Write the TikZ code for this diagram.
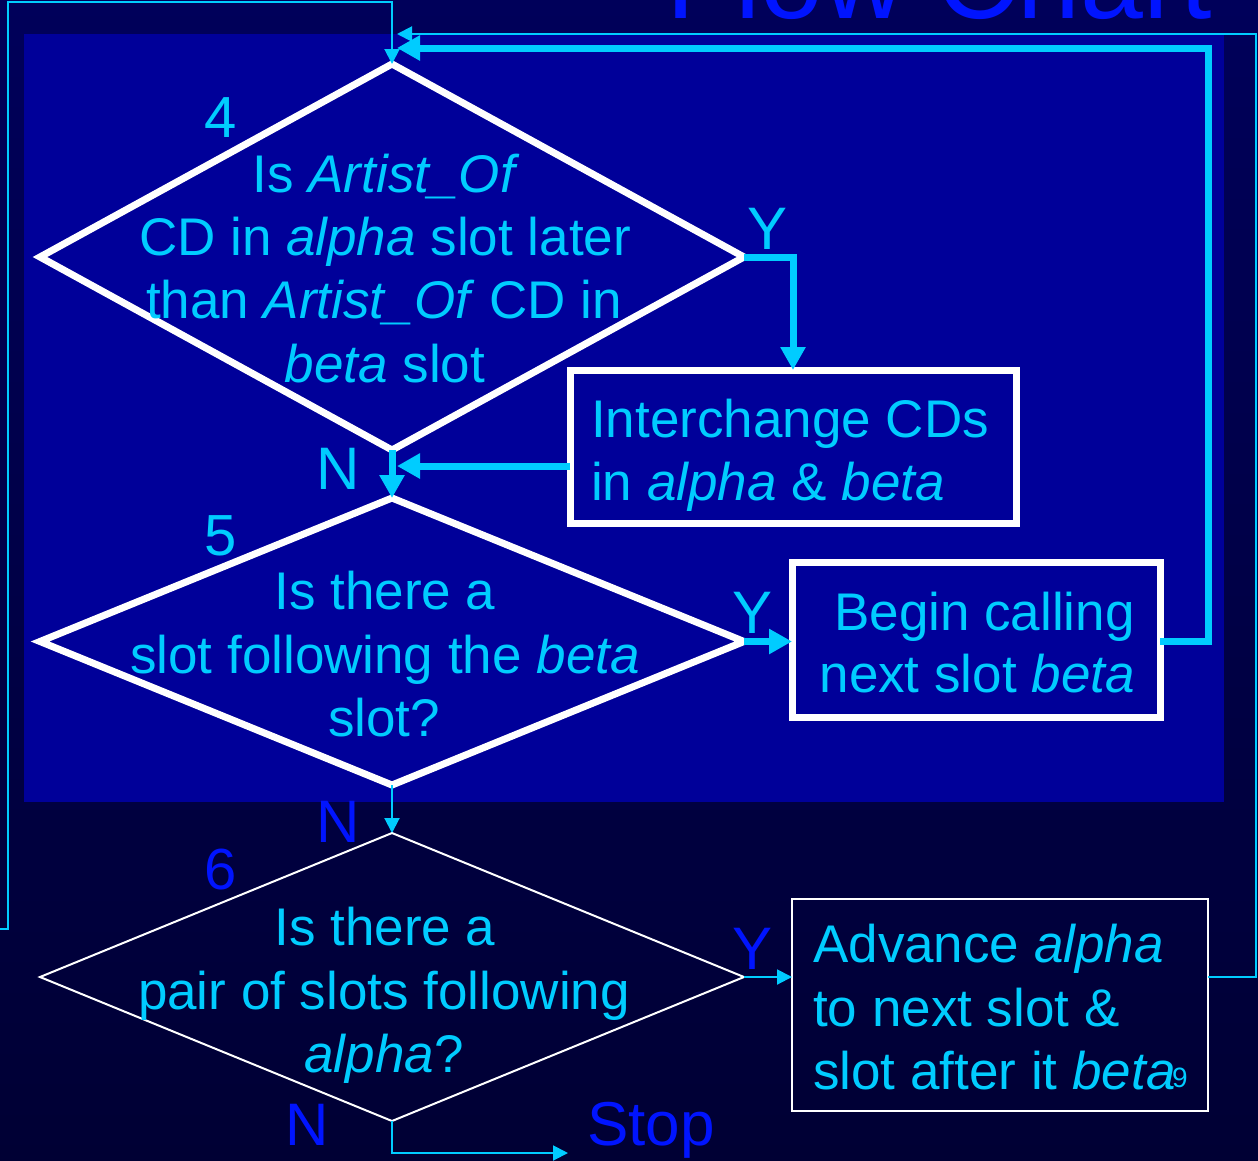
\documentclass[tikz,border=0pt]{standalone}
\usepackage{fontspec}
\setmainfont{Liberation Sans}
\usetikzlibrary{arrows.meta,shapes.geometric}
\definecolor{cy}{RGB}{0,204,255}
\definecolor{panel}{RGB}{0,0,153}
\definecolor{bgtop}{RGB}{0,0,90}
\definecolor{bgbot}{RGB}{0,0,52}
\definecolor{tblue}{RGB}{0,20,255}
\begin{document}
\begin{tikzpicture}[x=1pt,y=-1pt,
  dshape/.style={diamond, minimum width=704pt, inner sep=0pt, outer sep=0pt},
  bshape/.style={rectangle, inner sep=0pt, outer sep=0pt},
  thickb/.style={draw=white, line width=7pt},
  thinb/.style={draw=white, line width=2pt},
  thickc/.style={draw=cy, line width=7pt, -{Triangle[length=23pt,width=24pt]}},
  thinc/.style={draw=cy, line width=2pt, -{Triangle[length=15pt,width=15pt]}},
  txt/.style={text=cy, font=\fontsize{53}{60}\selectfont, inner sep=0pt, anchor=base},
  lab/.style={font=\fontsize{60}{60}\selectfont, inner sep=0pt, anchor=base},
  num/.style={font=\fontsize{58}{58}\selectfont, inner sep=0pt, anchor=base}
]
\useasboundingbox (0,0) rectangle (1258,1160);
\clip (0,0) rectangle (1258,1160);
\shade[top color=bgtop, bottom color=bgbot] (0,0) rectangle (1258,1160);
\fill[panel] (24,34) rectangle (1224,802);
\node[text=tblue, font=\fontsize{113}{113}\selectfont, inner sep=0pt, anchor=base west] (title) at (666,18) {Flow Chart};

% decisions
\node[dshape, thickb, minimum height=386pt] (d4) at (392,257) {};
\node[dshape, thickb, minimum height=287pt] (d5) at (392,641.5) {};
\node[dshape, thinb, minimum height=288pt] (d6) at (392,977) {};

% boxes
\node[bshape, thickb, minimum width=446pt, minimum height=153pt] (b1) at (793,446.5) {};
\node[bshape, thickb, minimum width=368pt, minimum height=155pt] (b2) at (976,639.5) {};
\node[bshape, draw=white, line width=2.5pt, minimum width=416pt, minimum height=212pt] (b3) at (1000,1005) {};

% texts
\node[txt] (d4a) at (386,192) {Is \textit{Artist\_Of}};
\node[txt] (d4b) at (385,255) {CD in \textit{alpha} slot later};
\node[txt] (d4c) at (384,318) {than \textit{Artist\_Of} CD in};
\node[txt] (d4d) at (385,382) {\textit{beta} slot};
\node[txt] (d5a) at (385,609) {Is there a};
\node[txt] (d5b) at (385,673) {slot following the \textit{beta}};
\node[txt] (d5c) at (384,736) {slot?};
\node[txt] (d6a) at (385,945) {Is there a};
\node[txt] (d6b) at (384,1009) {pair of slots following};
\node[txt] (d6c) at (384,1072) {\textit{alpha}?};
\node[txt, anchor=base west] (b1a) at (591,437) {Interchange CDs};
\node[txt, anchor=base west] (b1b) at (591,500) {in \textit{alpha} \& \textit{beta}};
\node[txt, anchor=base east] (b2a) at (1135,630) {Begin calling};
\node[txt, anchor=base east] (b2b) at (1135,692) {next slot \textit{beta}};
\node[txt, anchor=base west] (b3a) at (813,962) {Advance \textit{alpha}};
\node[txt, anchor=base west] (b3b) at (813,1026) {to next slot \&};
\node[txt, anchor=base west] (b3c) at (813,1089) {slot after it \textit{beta}};
\node[text=cy, font=\fontsize{28}{28}\selectfont, inner sep=0pt, anchor=base west] (pg) at (1172,1087) {9};

% numbers and labels
\node[num, text=cy] (n4) at (221,137) {4};
\node[num, text=cy] (n5) at (221,555) {5};
\node[num, text=tblue] (n6) at (221,889) {6};
\node[lab, text=cy] (y1) at (768,249) {Y};
\node[lab, text=cy] (no1) at (338,489) {N};
\node[lab, text=cy] (y2) at (753,633) {Y};
\node[lab, text=tblue] (no2) at (338,842) {N};
\node[lab, text=tblue] (y3) at (753,969) {Y};
\node[lab, text=tblue] (no3) at (307,1145) {N};
\node[font=\fontsize{62}{62}\selectfont, text=tblue, inner sep=0pt, anchor=base west] (stop) at (587,1145) {Stop};

% coordinates for free ends
\coordinate (j1) at (397,466);
\coordinate (r1) at (1208,48);
\coordinate (t1) at (397,48);
\coordinate (r2) at (1256,34);
\coordinate (t2) at (397,34);
\coordinate (stopc) at (568,1153);
\coordinate (l0) at (0,929);
\coordinate (l1) at (8,2);

% connectors
\draw[thickc] (d4.east) -| (b1.north);
\draw[thickc] (b1.west |- j1) -- (j1);
\draw[thickc] (d4.south) -- (d5.north);
\draw[thickc] (d5.east) -- (d5.east -| b2.west);
\draw[thickc] (b2.east |- d5.east) -| (r1) -- (t1);
\draw[thinc] (d5.south) -- (d6.north);
\draw[thinc] (d6.east) -- (d6.east -| b3.west);
\draw[thinc] (b3.east |- d6.east) -| (r2) -- (t2);
\draw[thinc] (d6.south) |- (stopc);
\draw[thinc] (l0) -| (l1) -| (d4.north);
\end{tikzpicture}
\end{document}
